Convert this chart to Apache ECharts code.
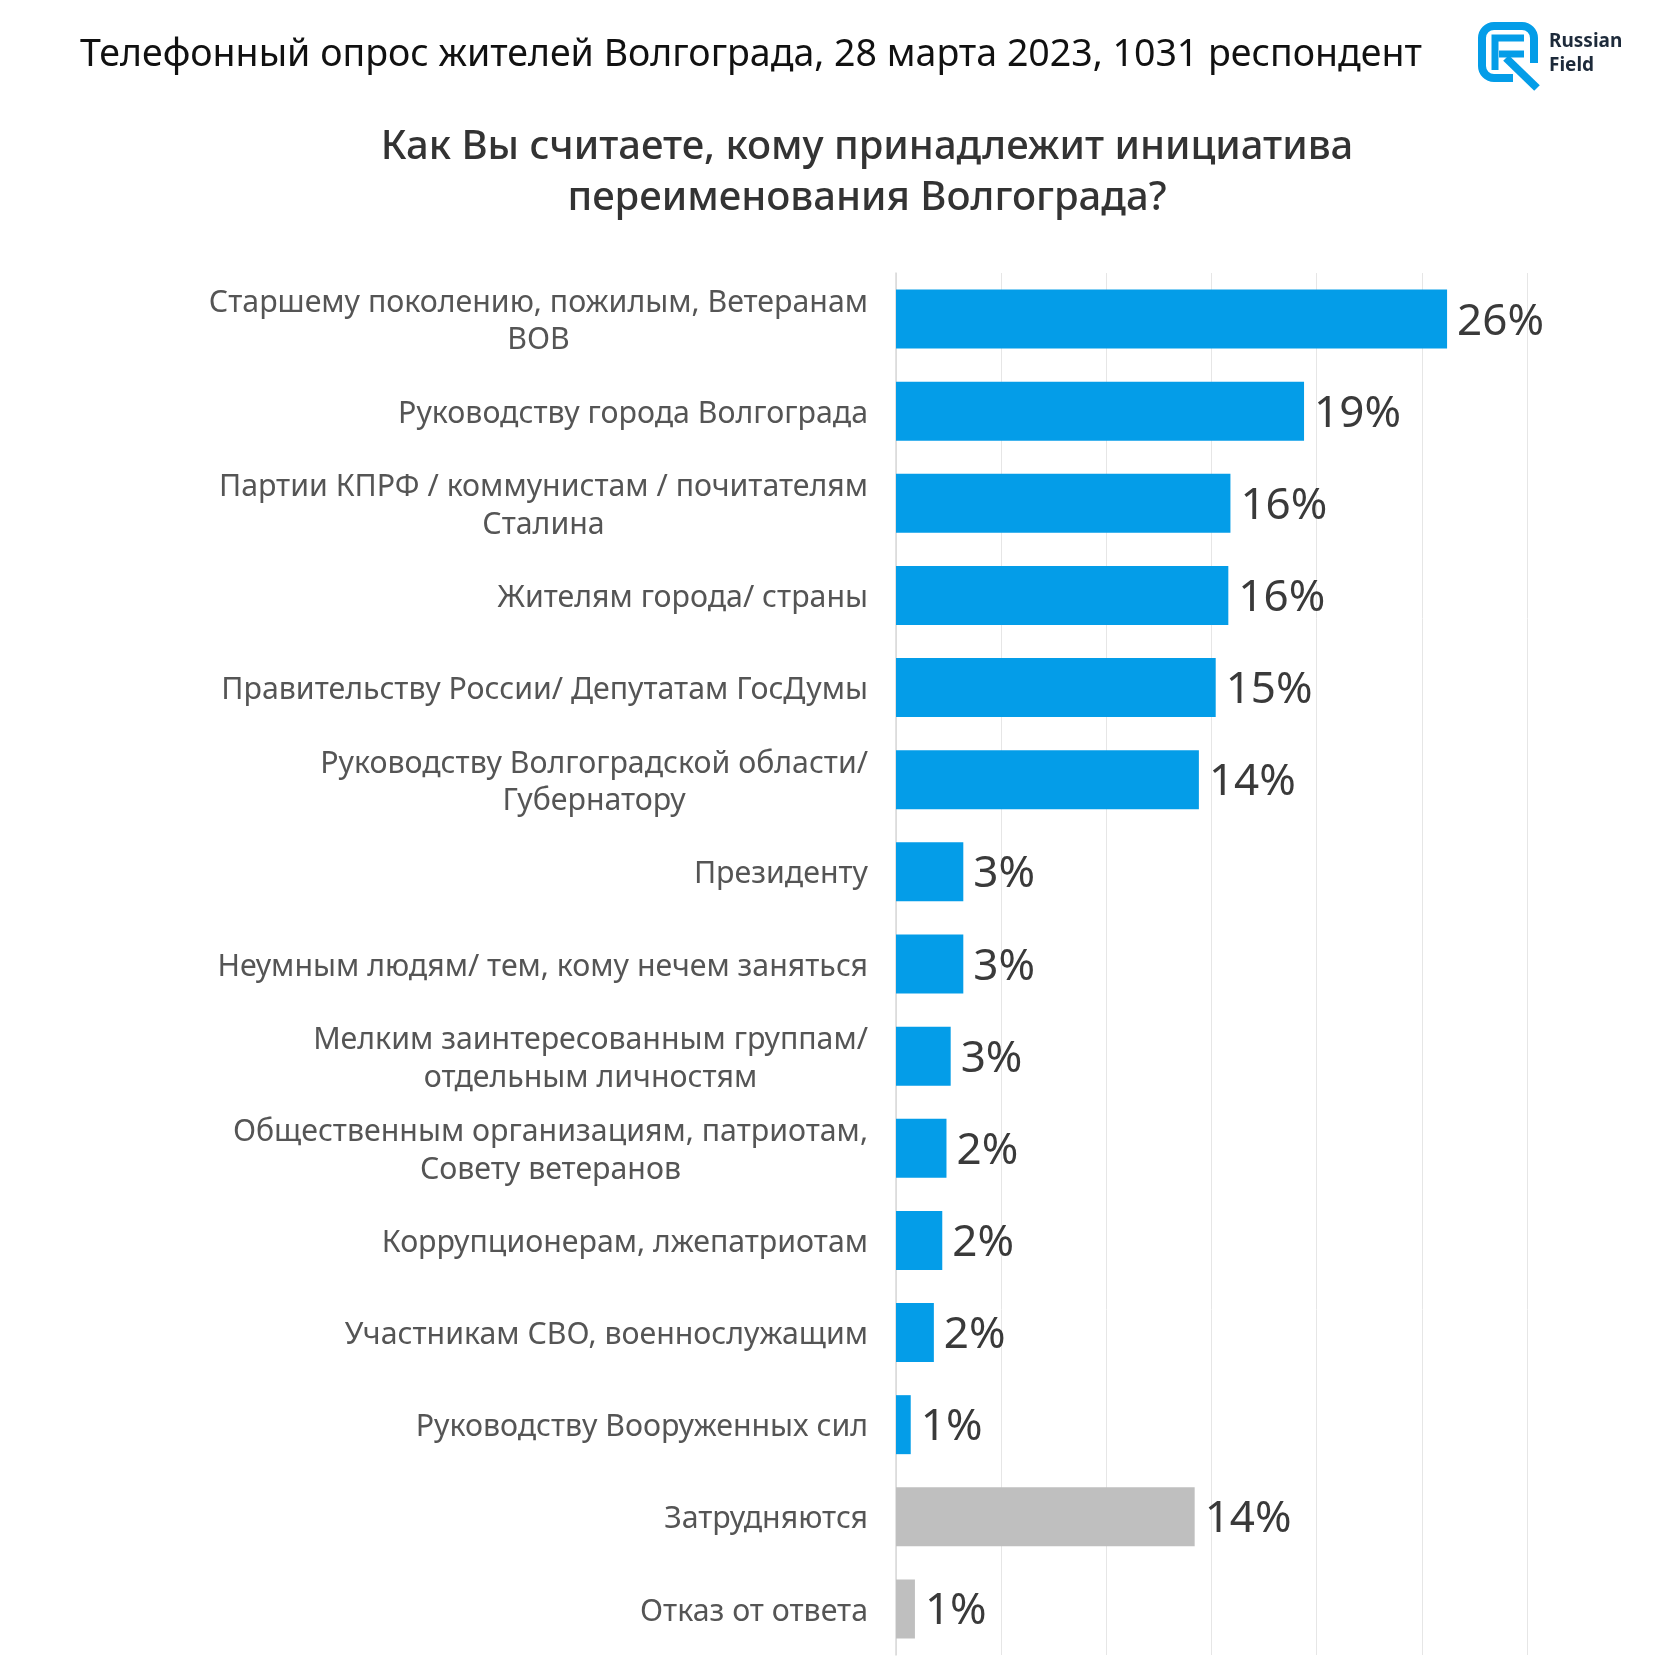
<!DOCTYPE html>
<html>
<head>
<meta charset="utf-8">
<script src="https://cdn.jsdelivr.net/npm/echarts@6/dist/echarts.min.js"></script>
<style>html,body{margin:0;padding:0;background:#fff}#c{width:1680px;height:1680px}</style>
</head>
<body>
<div id="c"></div>
<script>
const headerText = 'Телефонный опрос жителей Волгограда, 28 марта 2023, 1031 респондент';
const questionText = 'Как Вы считаете, кому принадлежит инициатива\nпереименования Волгограда?';
const categories = [
  'Старшему поколению, пожилым, Ветеранам\nВОВ',
  'Руководству города Волгограда',
  'Партии КПРФ / коммунистам / почитателям\nСталина',
  'Жителям города/ страны',
  'Правительству России/ Депутатам ГосДумы',
  'Руководству Волгоградской области/\nГубернатору',
  'Президенту',
  'Неумным людям/ тем, кому нечем заняться',
  'Мелким заинтересованным группам/\nотдельным личностям',
  'Общественным организациям, патриотам,\nСовету ветеранов',
  'Коррупционерам, лжепатриотам',
  'Участникам СВО, военнослужащим',
  'Руководству Вооруженных сил',
  'Затрудняются',
  'Отказ от ответа'
];
const values = [26.2, 19.4, 15.9, 15.8, 15.2, 14.4, 3.2, 3.2, 2.6, 2.4, 2.2, 1.8, 0.7, 14.2, 0.9];
const shownPercents = [26, 19, 16, 16, 15, 14, 3, 3, 3, 2, 2, 2, 1, 14, 1];
const nonAnswerCategories = ['Затрудняются', 'Отказ от ответа'];
const axisTicks = [0, 5, 10, 15, 20, 25, 30];

const BLUE = '#049de8';
const GREY = '#bfbfbf';
const FONT = '"Noto Sans", "Open Sans", sans-serif';

const chart = echarts.init(document.getElementById('c'), null, {renderer: 'canvas'});
const option = {
  backgroundColor: '#ffffff',
  animation: false,
  title: [
    {
      text: headerText, left: 75, top: 28,
      textStyle: {fontFamily: FONT, fontSize: 37.5, fontWeight: 'normal', color: '#111111', lineHeight: 44}
    },
    {
      text: questionText, left: 862, top: 117, textAlign: 'center',
      textStyle: {fontFamily: FONT, fontSize: 40, fontWeight: 500, color: '#333333', lineHeight: 51, align: 'center'}
    }
  ],
  grid: {left: 896, right: 153, top: 273, bottom: 25, containLabel: false},
  xAxis: {
    type: 'value', min: axisTicks[0], max: axisTicks[axisTicks.length - 1],
    interval: axisTicks[1] - axisTicks[0],
    axisLabel: {show: false}, axisTick: {show: false}, axisLine: {show: false},
    splitLine: {show: true, lineStyle: {color: '#e6e6e6', width: 1}}
  },
  yAxis: {
    type: 'category', inverse: true, data: categories,
    axisTick: {show: false},
    axisLine: {show: true, lineStyle: {color: '#d9d9d9', width: 1.5}},
    axisLabel: {
      margin: 28, align: 'right', fontFamily: FONT, fontSize: 30.3, color: '#555555', lineHeight: 37.5,
      padding: [6, 0, 0, 0],
      formatter: function (v) {
        return v.split('\n').map(function (l) { return '{c|' + l + '}'; }).join('\n');
      },
      rich: {c: {align: 'center', fontFamily: FONT, fontSize: 30.3, color: '#555555', lineHeight: 37.5}}
    }
  },
  series: [{
    type: 'bar', barWidth: 59,
    data: values.map(function (v, i) {
      return {
        value: v,
        itemStyle: {color: nonAnswerCategories.indexOf(categories[i]) >= 0 ? GREY : BLUE}
      };
    }),
    label: {
      show: true, position: 'right', distance: 10, offset: [0, 3],
      fontFamily: FONT, fontSize: 44, color: '#3a3a3a',
      formatter: function (p) { return shownPercents[p.dataIndex] + '%'; }
    }
  }],
  graphic: [
    {
      type: 'rect', z: 10,
      shape: {x: 1482, y: 26, width: 52, height: 52, r: 12},
      style: {fill: null, stroke: BLUE, lineWidth: 8}
    },
    {
      type: 'rect', z: 11,
      shape: {x: 1513, y: 63, width: 26, height: 20},
      style: {fill: '#ffffff'}
    },
    {
      type: 'polyline', z: 12,
      shape: {points: [[1495, 70], [1495, 38], [1524, 38]]},
      style: {fill: null, stroke: BLUE, lineWidth: 7}
    },
    {
      type: 'line', z: 12,
      shape: {x1: 1499, y1: 54, x2: 1524, y2: 54},
      style: {stroke: BLUE, lineWidth: 7}
    },
    {
      type: 'line', z: 12,
      shape: {x1: 1506, y1: 58, x2: 1537, y2: 88},
      style: {stroke: BLUE, lineWidth: 8}
    },
    {
      type: 'text', left: 1549, top: 30, z: 12,
      style: {text: 'Russian\nField', fontFamily: FONT, fontSize: 19, fontWeight: 'bold', fill: '#1d2a3a', lineHeight: 24}
    }
  ]
};
chart.setOption(option);
</script>
</body>
</html>
